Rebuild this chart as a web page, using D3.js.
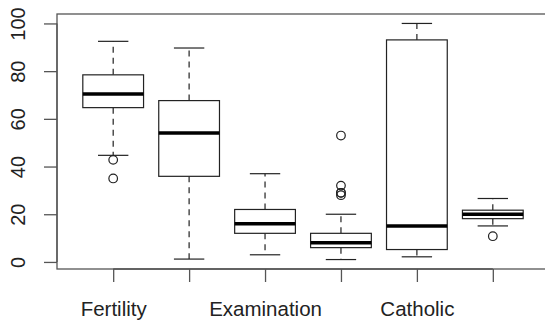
<!DOCTYPE html>
<html>
<head>
<meta charset="utf-8">
<script src="https://cdn.jsdelivr.net/npm/d3@7"></script>
<style>
  body { margin: 0; background: #fff; }
  text { font-family: "Liberation Sans", Arial, sans-serif; fill: #222; }
</style>
</head>
<body>
<svg width="545" height="320"></svg>
<script>
// swiss data summary
var categories = ["Fertility", "Agriculture", "Examination", "Education", "Catholic", "Infant.Mortality"];
var shownLabels = ["Fertility", "", "Examination", "", "Catholic", ""];
var lowWhisker = [44.7, 1.2, 3, 1, 2.15, 15.1];
var q1 = [64.7, 35.9, 12, 6, 5.2, 18.15];
var median = [70.4, 54.1, 16, 8, 15.1, 20];
var q3 = [78.45, 67.65, 22, 12, 93.1, 21.7];
var highWhisker = [92.5, 89.7, 37, 20, 100, 26.6];
var outliers = [[35, 42.8], [], [], [28, 29, 29, 32, 53], [], [10.8]];
var yTicks = [0, 20, 40, 60, 80, 100];

var svg = d3.select("svg");
var plot = { left: 57, right: 549, top: 14, bottom: 269 };

var x = d3.scaleLinear().domain([0.26, 6.74]).range([plot.left, plot.right]);
var y = d3.scaleLinear().domain([-2.96, 103.96]).range([plot.bottom, plot.top]);

var boxHalf = x(1.4) - x(1);
var capHalf = boxHalf / 2;

// frame
svg.append("rect")
  .attr("x", plot.left).attr("y", plot.top)
  .attr("width", plot.right - plot.left).attr("height", plot.bottom - plot.top)
  .attr("fill", "none").attr("stroke", "#555").attr("stroke-width", 1.3);

// y axis
var yAxis = svg.append("g")
  .attr("transform", "translate(" + plot.left + ",0)")
  .call(d3.axisLeft(y).tickValues(yTicks).tickSize(13).tickPadding(0).tickFormat(d3.format("d")));
yAxis.select(".domain").attr("stroke", "#555").attr("stroke-width", 1.3)
  .attr("d", "M0," + y(0) + "V" + y(100));
yAxis.selectAll(".tick line").attr("stroke", "#555").attr("stroke-width", 1.3);
yAxis.selectAll(".tick text")
  .attr("font-size", 20).attr("fill", "#222")
  .attr("text-anchor", "middle")
  .attr("x", null).attr("dy", null)
  .attr("transform", "translate(-32,0) rotate(-90)");

// x axis
var xAxis = svg.append("g")
  .attr("transform", "translate(0," + plot.bottom + ")")
  .call(d3.axisBottom(x).tickValues([1, 2, 3, 4, 5, 6]).tickSize(13).tickPadding(19)
    .tickFormat(function (d) { return shownLabels[d - 1]; }));
xAxis.select(".domain").attr("stroke", "#555").attr("stroke-width", 1.3)
  .attr("d", "M" + x(1) + ",0H" + x(6));
xAxis.selectAll(".tick line").attr("stroke", "#555").attr("stroke-width", 1.3);
xAxis.selectAll(".tick text").attr("font-size", 20.5).attr("fill", "#222");

var data = categories.map(function (c, i) {
  return { name: c, i: i + 1, lo: lowWhisker[i], q1: q1[i], med: median[i], q3: q3[i], hi: highWhisker[i], out: outliers[i] };
});

var g = svg.selectAll("g.box").data(data).enter().append("g").attr("class", "box");

// whiskers
g.append("line")
  .attr("x1", function (d) { return x(d.i); }).attr("x2", function (d) { return x(d.i); })
  .attr("y1", function (d) { return y(d.q3); }).attr("y2", function (d) { return y(d.hi); })
  .attr("stroke", "#222").attr("stroke-width", 1.2).attr("stroke-dasharray", "6,5");
g.append("line")
  .attr("x1", function (d) { return x(d.i); }).attr("x2", function (d) { return x(d.i); })
  .attr("y1", function (d) { return y(d.q1); }).attr("y2", function (d) { return y(d.lo); })
  .attr("stroke", "#222").attr("stroke-width", 1.2).attr("stroke-dasharray", "6,5");

["lo", "hi"].forEach(function (k) {
  g.append("line")
    .attr("x1", function (d) { return x(d.i) - capHalf; }).attr("x2", function (d) { return x(d.i) + capHalf; })
    .attr("y1", function (d) { return y(d[k]); }).attr("y2", function (d) { return y(d[k]); })
    .attr("stroke", "#222").attr("stroke-width", 1.2);
});

// boxes
g.append("rect")
  .attr("x", function (d) { return x(d.i) - boxHalf; })
  .attr("width", boxHalf * 2)
  .attr("y", function (d) { return y(d.q3); })
  .attr("height", function (d) { return y(d.q1) - y(d.q3); })
  .attr("fill", "#fff").attr("stroke", "#222").attr("stroke-width", 1.2);

// medians
g.append("line")
  .attr("x1", function (d) { return x(d.i) - boxHalf; }).attr("x2", function (d) { return x(d.i) + boxHalf; })
  .attr("y1", function (d) { return y(d.med); }).attr("y2", function (d) { return y(d.med); })
  .attr("stroke", "#000").attr("stroke-width", 3.5);

// outliers
g.selectAll("circle")
  .data(function (d) { return d.out.map(function (v) { return { i: d.i, v: v }; }); })
  .enter().append("circle")
  .attr("cx", function (d) { return x(d.i); })
  .attr("cy", function (d) { return y(d.v); })
  .attr("r", 4.3)
  .attr("fill", "none").attr("stroke", "#222").attr("stroke-width", 1.2);
</script>
</body>
</html>
